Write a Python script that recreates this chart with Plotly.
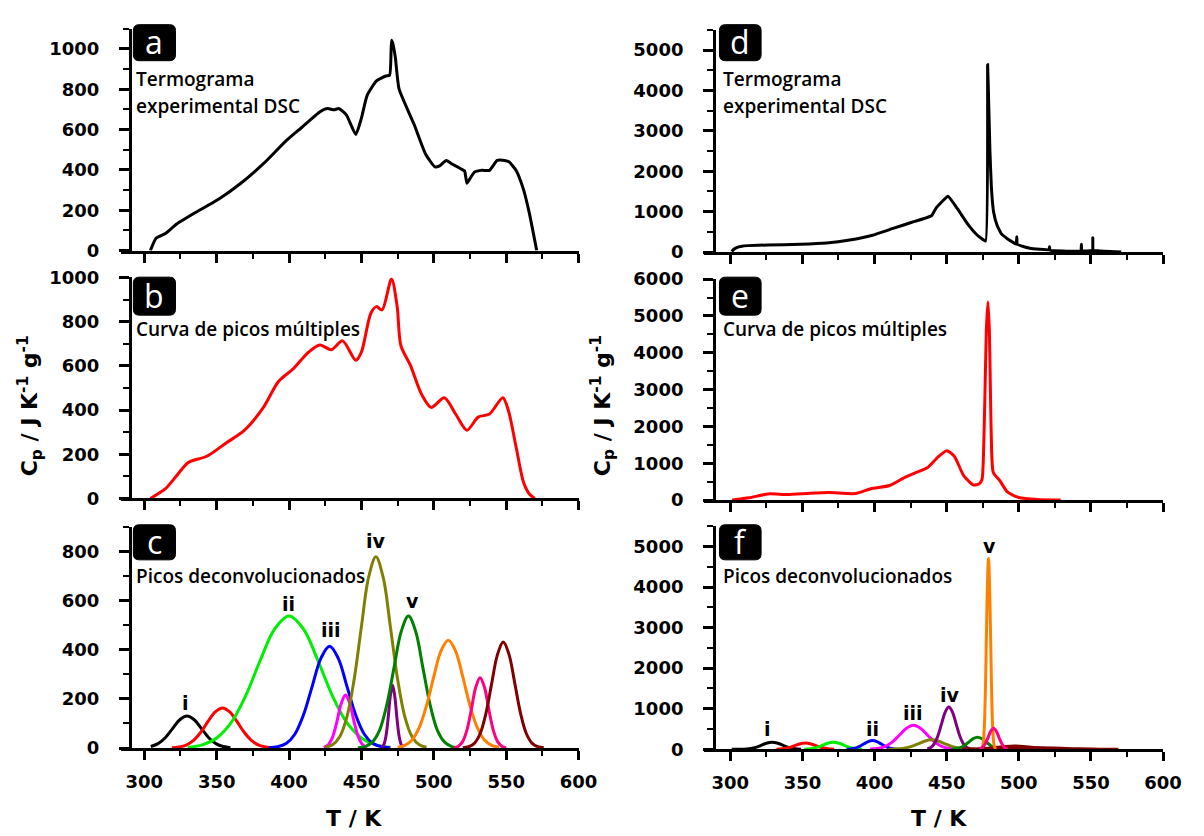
import plotly.graph_objects as go

W, H = 1204, 836

# ---------------- data ----------------
# (a) experimental DSC thermogram, sample 1
T_a = [304.2, 308, 314.6, 322.4, 335.4, 351, 366.7, 382.3, 397.9, 408.3, 421.4, 426.6, 431, 434.4, 439.6,
       446.1, 450, 453.9, 460.4, 466.9, 469.5, 470.8, 471.6, 473.4, 476, 486.5, 494.3, 500.8, 504, 508.6, 512,
       516.4, 520.3, 521.3, 522.9, 524, 528.1, 533.3, 538.5, 543.8, 549, 552, 556.8, 562, 565.9, 571.1]
Cp_a = [0, 60, 84, 132, 189, 253, 334, 431, 544, 608, 689, 705, 698, 705, 673,
        576, 657, 769, 842, 866, 870, 1044, 1030, 960, 802, 624, 479, 415, 420, 447, 432,
        415, 399, 395, 334, 345, 389, 398, 398, 447, 447, 440, 398, 302, 189, 0]

# (b) multiple-peak curve, sample 1
T_b = [304.2, 314.6, 322, 330.2, 343.2, 356.3, 369.3, 382.3, 392.7, 403.1, 413.5, 421.4, 429.2, 437, 446.1,
       450, 456.5, 460.4, 464.3, 470.8, 474.7, 477.3, 483.8, 491.6, 498.2, 507.3, 515.1, 522.9, 530.7, 538.5,
       547.7, 551.6, 556.8, 562, 566, 569.8]
Cp_b = [0, 44, 100, 162, 191, 250, 309, 412, 529, 588, 662, 694, 673, 713, 625,
        662, 838, 868, 853, 993, 868, 691, 603, 471, 412, 456, 382, 309, 368, 382,
        456, 397, 235, 73, 20, 0]

# (c) deconvoluted peaks, sample 1  (name, color, T list, Cp list)
peaks_c = [
    ("i", "#000000", [304.5, 309.5, 314.5, 319.5, 324.5, 329.5, 334.5, 339.5, 344.5, 349.5, 354.5, 359.5],
     [6, 18, 42, 79, 115, 130, 115, 79, 42, 18, 6, 1]),
    ("red", "#ff0000", [319, 324, 329, 334, 339, 344, 349, 354, 359, 364, 369, 374, 379, 384, 389],
     [1, 4, 12, 31, 64, 108, 147, 163, 147, 108, 64, 31, 12, 4, 1]),
    ("ii", "#00ee00", [330, 340, 350, 360, 370, 380, 390, 400, 410, 420, 430, 440, 450, 460, 470],
     [3, 13, 41, 103, 212, 355, 484, 537, 484, 355, 212, 103, 41, 13, 3]),
    ("iii", "#0000ff", [386, 392, 398, 404, 410, 416, 422, 428, 434, 440, 446, 452, 458, 464, 470],
     [1, 5, 18, 56, 135, 251, 365, 414, 365, 251, 135, 56, 18, 5, 1]),
    ("magenta", "#ff00ff", [424, 427, 430, 433, 436, 439, 442, 445, 448, 451, 454],
     [2, 12, 43, 105, 180, 216, 180, 105, 43, 12, 2]),
    ("iv", "#808000", [425, 430, 435, 440, 445, 450, 455, 460, 465, 470, 475, 480, 485, 490, 495],
     [3, 13, 46, 127, 280, 494, 695, 778, 695, 494, 280, 127, 46, 13, 3]),
    ("purple", "#800080", [464, 465.5, 467, 468.5, 470, 471.5, 473, 474.5, 476, 477.5, 479],
     [3, 14, 50, 124, 213, 255, 213, 124, 50, 14, 3]),
    ("v", "#008000", [447.5, 452.5, 457.5, 462.5, 467.5, 472.5, 477.5, 482.5, 487.5, 492.5, 497.5, 502.5, 507.5,
                      512.5, 517.5],
     [1, 6, 24, 72, 175, 326, 474, 537, 474, 326, 175, 72, 24, 6, 1]),
    ("orange", "#ff8000", [475, 480, 485, 490, 495, 500, 505, 510, 515, 520, 525, 530, 535, 540, 545],
     [3, 11, 33, 84, 173, 290, 395, 438, 395, 290, 173, 84, 33, 11, 3]),
    ("pink", "#ff0080", [514, 517, 520, 523, 526, 529, 532, 535, 538, 541, 544, 547, 550],
     [1, 7, 27, 75, 158, 247, 286, 247, 158, 75, 27, 7, 1]),
    ("maroon", "#800000", [520, 524, 528, 532, 536, 540, 544, 548, 552, 556, 560, 564, 568, 572, 576],
     [1, 5, 19, 58, 140, 262, 380, 431, 380, 262, 140, 58, 19, 5, 1]),
]
labels_c = ["i", "ii", "iii", "iv", "v"]
labels_c_T = [328.6, 399.9, 428.8, 459.8, 485.3]
labels_c_Cp = [182, 587, 480, 844, 599]

# (d) experimental DSC thermogram, sample 2
T_d = [301, 302.5, 304.4, 308, 312.3, 325.9, 348.6, 366.8, 382.7, 398.6, 412.3, 425.9, 439.5, 442.9, 450.9,
       457.7, 464.5, 471.3, 477, 478.4, 479.2, 480, 481, 482.5, 485, 488, 491.8, 498.2, 498.6, 499, 507.7, 521,
       521.3, 521.6, 539.5, 543.1, 543.4, 543.7, 551, 551.3, 551.6, 556, 563, 571]
Cp_d = [15, 70, 111, 145, 160, 176, 192, 224, 297, 417, 579, 738, 900, 1100, 1382,
        1061, 699, 417, 273, 4638, 3600, 2500, 1600, 1000, 658, 450, 338, 200, 377, 190, 96, 56,
        135, 50, 20, 30, 193, 30, 40, 354, 40, 30, 15, 0]

# (e) multiple-peak curve, sample 2
T_e = [301.3, 313, 326.3, 339.5, 355.3, 368.4, 386.8, 397.4, 410.5, 421, 429, 436.8, 443.4, 450, 455.3,
       461.8, 468.4, 472.5, 474.5, 475.5, 476.5, 477.5, 478.6, 479.6, 480.4, 481.2, 482, 483, 486.8, 492.1,
       500, 513.2, 529]
Cp_e = [0, 62, 168, 150, 185, 203, 177, 309, 397, 618, 750, 883, 1147, 1342, 1192,
        662, 415, 440, 560, 1200, 2800, 4600, 5384, 4600, 2800, 1300, 800, 700, 530, 221,
        71, 18, 0]

# (f) deconvoluted peaks, sample 2
peaks_f = [
    ("i", "#000000", [301, 305, 309, 313, 317, 321, 325, 329, 333, 337, 341, 345, 349],
     [0, 1, 3, 13, 40, 91, 149, 175, 149, 91, 40, 13, 3]),
    ("red", "#ff0000", [332, 336, 340, 344, 348, 352, 356, 360, 364, 368, 372],
     [3, 11, 36, 81, 132, 155, 132, 81, 36, 11, 3]),
    ("green", "#00ee00", [351.4, 355.4, 359.4, 363.4, 367.4, 371.4, 375.4, 379.4, 383.4, 387.4, 391.4],
     [3, 13, 40, 91, 149, 175, 149, 91, 40, 13, 3]),
    ("ii", "#0000ff", [380.6, 383.6, 386.6, 389.6, 392.6, 395.6, 398.6, 401.6, 404.6, 407.6, 410.6, 413.6, 416.6],
     [2, 10, 29, 70, 131, 191, 216, 191, 131, 70, 29, 10, 2]),
    ("iii", "#ff00ff", [397, 402, 407, 412, 417, 422, 427, 432, 437, 442, 447, 452, 457],
     [4, 18, 64, 170, 339, 514, 590, 514, 339, 170, 64, 18, 4]),
    ("olive", "#808000", [409.6, 414.6, 419.6, 424.6, 429.6, 434.6, 439.6, 444.6, 449.6, 454.6, 459.6, 464.6, 469.6],
     [1, 5, 20, 58, 125, 199, 232, 199, 125, 58, 20, 5, 1]),
    ("iv", "#800080", [436.5, 439, 441.5, 444, 446.5, 449, 451.5, 454, 456.5, 459, 461.5, 464, 466.5],
     [11, 46, 140, 338, 631, 917, 1040, 917, 631, 338, 140, 46, 11]),
    ("dkgreen", "#008000", [453.4, 456.4, 459.4, 462.4, 465.4, 468.4, 471.4, 474.4, 477.4, 480.4, 483.4, 486.4, 489.4],
     [3, 13, 40, 96, 180, 261, 296, 261, 180, 96, 40, 13, 3]),
    ("maroon", "#800000", [461, 467, 473, 479, 485, 491, 497, 503, 509, 515, 521, 527, 533],
     [1, 4, 11, 26, 49, 71, 80, 71, 49, 26, 11, 4, 1]),
    ("tail", "#800000", [461, 470, 479, 488, 497, 506, 515, 524, 533, 542, 551, 560, 569],
     [0, 2, 5, 11, 21, 31, 35, 31, 21, 11, 5, 2, 0]),
    ("v", "#ff8000", [474, 475, 476, 477, 478, 479, 480, 481, 482, 483, 484],
     [9, 80, 475, 1693, 3645, 4703, 3645, 1693, 475, 80, 9]),
    ("pink", "#ff0080", [472.5, 474.5, 476.5, 478.5, 480.5, 482.5, 484.5, 486.5, 488.5, 490.5, 492.5],
     [9, 38, 120, 271, 442, 521, 442, 271, 120, 38, 9]),
]
labels_f = ["i", "ii", "iii", "iv", "v"]
labels_f_T = [325.9, 398.6, 427.0, 452.0, 479.5]
labels_f_Cp = [495, 495, 897, 1337, 5024]

panel_letters = ["a", "b", "c", "d", "e", "f"]
panel_texts = [["Termograma", "experimental DSC"], ["Curva de picos múltiples"], ["Picos deconvolucionados"],
               ["Termograma", "experimental DSC"], ["Curva de picos múltiples"], ["Picos deconvolucionados"]]
y_title = "C<sub>p</sub> / J K<sup>-1</sup> g<sup>-1</sup>"
x_title = "T / K"

# ---------------- helpers ----------------
def px(x):
    return x / W


def py(y):
    return 1 - y / H


BOLD = "DejaVu Sans, Liberation Sans, Arial, sans-serif"
TICKFONT = dict(family=BOLD, size=18, color="black", weight="bold")
TXTFONT = dict(family="Open Sans, sans-serif", size=19, color="black", weight=600)

fig = go.Figure()

cols = {
    0: dict(x0=122.5, x1=587.8, yx=132.0, xr=[283.6, 600]),
    1: dict(x0=715.6, x1=1181.7, yx=725.5, xr=[282.0, 600]),
}
rows = [
    dict(b=245.7, t=18.3, yr=[0, 1100], dt=200, mdt=100),
    dict(b=500.0, t=273.3, yr=[0, 1000], dt=200, mdt=100),
    dict(b=756.0, t=529.1, yr=[0, 900], dt=200, mdt=100),
    dict(b=247.3, t=19.3, yr=[0, 5500], dt=1000, mdt=500),
    dict(b=501.7, t=275.0, yr=[0, 6000], dt=1000, mdt=500),
    dict(b=757.3, t=528.5, yr=[0, 5500], dt=1000, mdt=500),
]

layout_axes = {}
for i in range(6):
    c = cols[i // 3]
    r = rows[i]
    n = i + 1
    bottom = (i % 3 == 2)
    layout_axes[f"xaxis{n}"] = dict(
        domain=[px(c["x0"]), px(c["x1"])], range=c["xr"], anchor=f"y{n}",
        showline=True, linewidth=3, linecolor="black", mirror=False,
        ticks="outside", ticklen=9, tickwidth=2.5, tickcolor="black",
        tick0=0, dtick=50, showgrid=False, zeroline=False,
        minor=dict(ticks="outside", ticklen=5, tickwidth=2, tickcolor="black", tick0=0, dtick=25),
        showticklabels=bottom, tickfont=TICKFONT, ticklabelstandoff=6,
    )
    layout_axes[f"yaxis{n}"] = dict(
        domain=[py(r["b"]), py(r["t"])], range=r["yr"], anchor="free", position=px(c["yx"]),
        showline=True, linewidth=3, linecolor="black",
        ticks="outside", ticklen=10, tickwidth=2.5, tickcolor="black",
        tick0=0, dtick=r["dt"], showgrid=False, zeroline=False,
        minor=dict(ticks="outside", ticklen=6, tickwidth=2, tickcolor="black", tick0=0, dtick=r["mdt"]),
        tickfont=TICKFONT, ticklabelstandoff=16,
    )

# ---------------- traces ----------------
fig.add_trace(go.Scatter(x=T_a, y=Cp_a, mode="lines", line=dict(color="black", width=3, shape="spline",
                                                                 smoothing=0.5),
                         xaxis="x1", yaxis="y1", showlegend=False))
fig.add_trace(go.Scatter(x=T_b, y=Cp_b, mode="lines", line=dict(color="#ff0000", width=3, shape="spline",
                                                                 smoothing=0.8),
                         xaxis="x2", yaxis="y2", showlegend=False))
for name, col, tt, vv in peaks_c:
    fig.add_trace(go.Scatter(x=tt, y=vv, mode="lines", line=dict(color=col, width=3, shape="spline", smoothing=1),
                             xaxis="x3", yaxis="y3", showlegend=False, name=name))
fig.add_trace(go.Scatter(x=T_d, y=Cp_d, mode="lines", line=dict(color="black", width=3, shape="spline",
                                                                 smoothing=0.3),
                         xaxis="x4", yaxis="y4", showlegend=False))
fig.add_trace(go.Scatter(x=T_e, y=Cp_e, mode="lines", line=dict(color="#ff0000", width=3, shape="spline",
                                                                 smoothing=0.6),
                         xaxis="x5", yaxis="y5", showlegend=False))
for name, col, tt, vv in peaks_f:
    fig.add_trace(go.Scatter(x=tt, y=vv, mode="lines", line=dict(color=col, width=3, shape="spline", smoothing=1),
                             xaxis="x6", yaxis="y6", showlegend=False, name=name))

# ---------------- annotations & shapes ----------------
annotations = []
shapes = []


def rbox(x0, y0, x1, y1, rr=6):
    def P(x, y):
        return f"{px(x):.5f},{py(y):.5f}"
    return (f"M {P(x0 + rr, y0)} L {P(x1 - rr, y0)} Q {P(x1, y0)} {P(x1, y0 + rr)} "
            f"L {P(x1, y1 - rr)} Q {P(x1, y1)} {P(x1 - rr, y1)} L {P(x0 + rr, y1)} "
            f"Q {P(x0, y1)} {P(x0, y1 - rr)} L {P(x0, y0 + rr)} Q {P(x0, y0)} {P(x0 + rr, y0)} Z")


box_x = {0: (135.5, 178.3), 1: (731.0, 773.3)}
box_y = [(14, 51), (273, 312), (527, 563)]
text_x = {0: 136.0, 1: 732.5}
text_y = [[70, 97], [326], [580]]

for i in range(6):
    col = i // 3
    row = i % 3
    bx0, bx1 = box_x[col]
    by0, by1 = box_y[row]
    shapes.append(dict(type="path", xref="paper", yref="paper", path=rbox(bx0, by0, bx1, by1),
                       fillcolor="black", line=dict(color="black", width=1), layer="above"))
    annotations.append(dict(x=px((bx0 + bx1) / 2), y=py((by0 + by1) / 2 - 1), xref="paper", yref="paper",
                            text=panel_letters[i], showarrow=False, xanchor="center", yanchor="middle",
                            font=dict(family="Open Sans, sans-serif", size=32, color="white")))
    for line_txt, ly in zip(panel_texts[i], text_y[row]):
        annotations.append(dict(x=px(text_x[col]), y=py(ly), xref="paper", yref="paper", text=line_txt,
                                showarrow=False, xanchor="left", yanchor="middle", font=TXTFONT))

LABFONT = dict(family=BOLD, size=19, color="black", weight="bold")
for lab, tx, ty in zip(labels_c, labels_c_T, labels_c_Cp):
    annotations.append(dict(x=tx, y=ty, xref="x3", yref="y3", text=lab, showarrow=False,
                            xanchor="center", yanchor="middle", font=LABFONT))
for lab, tx, ty in zip(labels_f, labels_f_T, labels_f_Cp):
    annotations.append(dict(x=tx, y=ty, xref="x6", yref="y6", text=lab, showarrow=False,
                            xanchor="center", yanchor="middle", font=LABFONT))

TITLEFONT = dict(family=BOLD, size=22, color="black", weight="bold")
for cx in (30, 612):
    annotations.append(dict(x=px(cx), y=py(405), xref="paper", yref="paper", text=y_title, showarrow=False,
                            textangle=-90, xanchor="center", yanchor="middle", font=TITLEFONT))
for cx in (360, 954):
    annotations.append(dict(x=px(cx), y=py(828), xref="paper", yref="paper", text=x_title, showarrow=False,
                            xanchor="center", yanchor="middle", font=TITLEFONT))

fig.update_layout(
    width=W, height=H, margin=dict(l=0, r=0, t=0, b=0),
    paper_bgcolor="white", plot_bgcolor="white",
    annotations=annotations, shapes=shapes, showlegend=False,
    **layout_axes,
)

fig.write_html("out.html")
